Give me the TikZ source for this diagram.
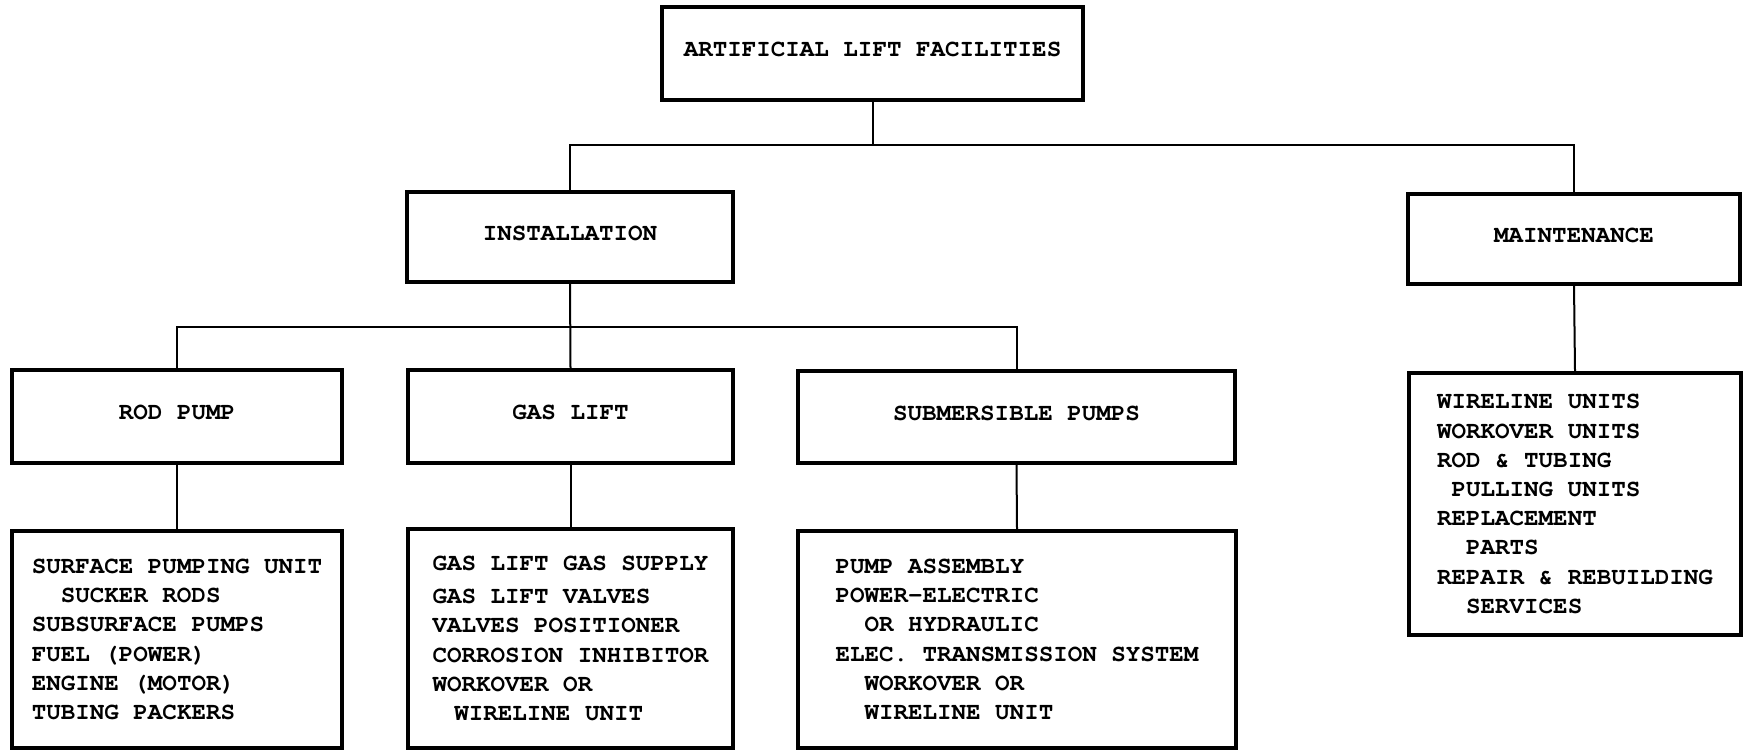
\documentclass[tikz,border=0pt]{standalone}
\usepackage{fontspec}
\newfontfamily\mono{texgyrecursor-bold.otf}
\newlength\cw
\setlength\cw{7.26pt}
\newcommand\ind[1]{\hspace*{#1\cw}}
\begin{document}
\begin{tikzpicture}[x=0.5pt,y=-0.5pt,
  box/.style={draw, line width=1.7pt, inner sep=0pt, anchor=center,
    font=\mono\fontsize{12.1}{14.6}\selectfont},
  lbl/.style={box, text depth=4pt},
  lst/.style={box, align=left},
  conn/.style={line width=1pt}]
\useasboundingbox (0,0) rectangle (1749,752);
% boxes
\node[lbl, minimum width=210.5pt, minimum height=46.5pt] (top) at (872.5,53.5) {ARTIFICIAL LIFT FACILITIES};
\node[lbl, minimum width=163pt, minimum height=45pt] (inst) at (570,237) {INSTALLATION};
\node[lbl, minimum width=166pt, minimum height=45pt] (maint) at (1574,239) {MAINTENANCE};
\node[lbl, minimum width=165pt, minimum height=46.5pt] (rod) at (177,416.5) {ROD PUMP};
\node[lbl, minimum width=162.5pt, minimum height=46.5pt] (gas) at (570.5,416.5) {GAS LIFT};
\node[lbl, minimum width=218.5pt, minimum height=46pt] (sub) at (1016.5,417) {SUBMERSIBLE PUMPS};
\node[lst, minimum width=165pt, minimum height=108.5pt] (rodl) at (177,639.5) {SURFACE PUMPING UNIT\\\ind{2}SUCKER RODS\\SUBSURFACE PUMPS\\FUEL (POWER)\\ENGINE (MOTOR)\\TUBING PACKERS};
\node[lst, minimum width=162.5pt, minimum height=109.5pt] (gasl) at (570.5,638.5) {GAS LIFT GAS SUPPLY\\[2pt]GAS LIFT VALVES\\VALVES POSITIONER\\CORROSION INHIBITOR\\WORKOVER OR\\\ind{1.5}WIRELINE UNIT};
\node[lst, minimum width=219pt, minimum height=108.5pt] (subl) at (1017,639.5) {PUMP ASSEMBLY\\POWER-ELECTRIC\\\ind{2}OR HYDRAULIC\\ELEC. TRANSMISSION SYSTEM\\\ind{2}WORKOVER OR\\\ind{2}WIRELINE UNIT};
\node[lst, minimum width=166pt, minimum height=131pt] (maintl) at (1575,504) {WIRELINE UNITS\\WORKOVER UNITS\\ROD \& TUBING\\\ind{1}PULLING UNITS\\REPLACEMENT\\\ind{2}PARTS\\REPAIR \& REBUILDING\\\ind{2}SERVICES};
% connectors
\coordinate (j1) at (872.5,145);
\coordinate (j2) at (570,327);
\draw[conn] (top.south) -- (j1);
\draw[conn] (inst.north) |- (j1) -| (maint.north);
\draw[conn] (inst.south) -- (gas.north);
\draw[conn] (rod.north) |- (j2) -| (sub.north);
\draw[conn] (rod.south) -- (rodl.north);
\draw[conn] (gas.south) -- (gasl.north);
\draw[conn] (sub.south) -- (subl.north);
\draw[conn] (maint.south) -- (maintl.north);
\end{tikzpicture}
\end{document}
